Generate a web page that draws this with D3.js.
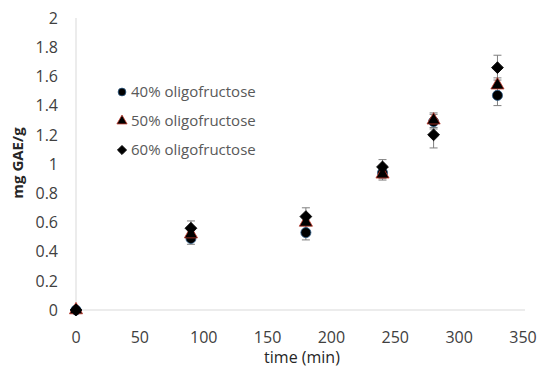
<!DOCTYPE html>
<html>
<head>
<meta charset="utf-8">
<script src="https://cdn.jsdelivr.net/npm/d3@7"></script>
<style>
  body { margin: 0; background: #fff; }
  svg { font-family: "Open Sans", "Liberation Sans", sans-serif; }
</style>
</head>
<body>
<svg id="chart" width="550" height="375"></svg>
<script>
const times = [0, 90, 180, 240, 280, 330];
const names = ["40% oligofructose", "50% oligofructose", "60% oligofructose"];
const vals40 = [0, 0.49, 0.53, 0.94, 1.29, 1.47];
const vals50 = [0, 0.52, 0.60, 0.93, 1.30, 1.54];
const vals60 = [0, 0.56, 0.64, 0.98, 1.20, 1.66];
const err40 = [0.01, 0.04, 0.05, 0.04, 0.05, 0.07];
const err50 = [0.01, 0.04, 0.05, 0.04, 0.05, 0.05];
const err60 = [0.01, 0.05, 0.06, 0.05, 0.09, 0.085];
const xTicks = [0, 50, 100, 150, 200, 250, 300, 350];
const yTicks = [0, 0.2, 0.4, 0.6, 0.8, 1, 1.2, 1.4, 1.6, 1.8, 2];

// rotate a square to get excel's diamond
const series = [
  { name: names[0], vals: vals40, err: err40, shape: d3.symbolCircle, size: 80, rot: 0, stroke: "#2e5e8a" },
  { name: names[1], vals: vals50, err: err50, shape: d3.symbolTriangle, size: 75, rot: 0, stroke: "#c0392b" },
  { name: names[2], vals: vals60, err: err60, shape: d3.symbolSquare, size: 70, rot: 45, stroke: "#000" }
];

const svg = d3.select("#chart");
const x = d3.scaleLinear().domain([0, 350]).range([76, 523]);
const y = d3.scaleLinear().domain([0, 2]).range([310, 18]);

// axis lines
svg.append("line")
  .attr("x1", x(0)).attr("x2", 525)
  .attr("y1", y(0)).attr("y2", y(0))
  .attr("stroke", "#d9d9d9");
svg.append("line")
  .attr("x1", x(0)).attr("x2", x(0))
  .attr("y1", y(0)).attr("y2", y(2))
  .attr("stroke", "#d9d9d9");

// tick labels
svg.selectAll(".ylab").data(yTicks).join("text")
  .attr("x", 58).attr("y", d => y(d))
  .attr("dy", "0.36em")
  .attr("text-anchor", "end")
  .attr("font-size", 16)
  .attr("fill", "#404040")
  .text(d => d);

svg.selectAll(".xlab").data(xTicks).join("text")
  .attr("x", d => x(d)).attr("y", 337)
  .attr("dy", "0.36em")
  .attr("text-anchor", "middle")
  .attr("font-size", 16)
  .attr("fill", "#404040")
  .text(d => d);

// axis titles
svg.append("text")
  .attr("x", 302).attr("y", 363)
  .attr("text-anchor", "middle")
  .attr("font-size", 16)
  .attr("fill", "#262626")
  .text("time (min)");
svg.append("text")
  .attr("transform", "translate(23,163) rotate(-90)")
  .attr("text-anchor", "middle")
  .attr("font-size", 15)
  .attr("font-weight", "bold")
  .attr("fill", "#262626")
  .text("mg GAE/g");

// error bars then markers
series.forEach(s => {
  let g = svg.append("g");
  let pts = times.map((t, i) => ({ t: t, v: s.vals[i], e: s.err[i] }));
  g.selectAll(".eb").data(pts).join("line")
    .attr("x1", d => x(d.t)).attr("x2", d => x(d.t))
    .attr("y1", d => y(d.v - d.e)).attr("y2", d => y(d.v + d.e))
    .attr("stroke", "#7f7f7f").attr("stroke-width", 1);
  [-1, 1].forEach(sign => {
    g.selectAll(".cap" + sign).data(pts).join("line")
      .attr("x1", d => x(d.t) - 4).attr("x2", d => x(d.t) + 4)
      .attr("y1", d => y(d.v + sign * d.e)).attr("y2", d => y(d.v + sign * d.e))
      .attr("stroke", "#7f7f7f").attr("stroke-width", 1);
  });
});

series.forEach(s => {
  let pts = times.map((t, i) => ({ t: t, v: s.vals[i] }));
  svg.append("g").selectAll("path").data(pts).join("path")
    .attr("d", d3.symbol().type(s.shape).size(s.size))
    .attr("transform", d => `translate(${x(d.t)},${y(d.v)}) rotate(${s.rot})`)
    .attr("fill", "#000")
    .attr("stroke", s.stroke)
    .attr("stroke-width", 0.8);
});

// legend
const legend = svg.append("g");
series.forEach((s, i) => {
  let ly = 92 + i * 29;
  legend.append("path")
    .attr("d", d3.symbol().type(s.shape).size(s.size * 0.6))
    .attr("transform", `translate(122,${ly}) rotate(${s.rot})`)
    .attr("fill", "#000")
    .attr("stroke", s.stroke)
    .attr("stroke-width", 0.8);
  legend.append("text")
    .attr("x", 131).attr("y", ly)
    .attr("dy", "0.36em")
    .attr("font-size", 15)
    .attr("fill", "#595959")
    .text(s.name);
});
</script>
</body>
</html>
